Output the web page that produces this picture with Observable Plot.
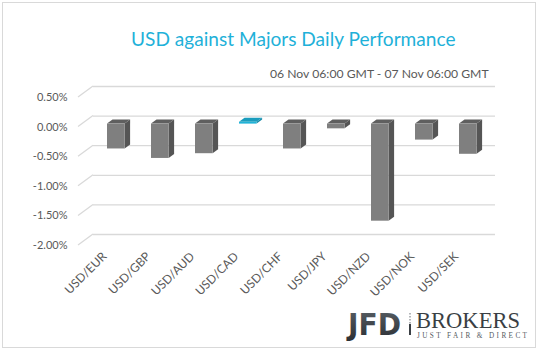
<!DOCTYPE html>
<html>
<head>
<meta charset="utf-8">
<script src="https://cdn.jsdelivr.net/npm/d3@7"></script>
<script src="https://cdn.jsdelivr.net/npm/@observablehq/plot@0.6"></script>
<style>
  html, body { margin: 0; padding: 0; background: #fff; }
  #wrap { position: relative; width: 538px; height: 351px; overflow: hidden; font-family: Lato, "Open Sans", sans-serif; }
  #frame { position: absolute; left: 2px; top: 2px; width: 532px; height: 344px; border: 1px solid #d9d9d9; box-sizing: content-box; }
  #chart { position: absolute; left: 0; top: 0; }
  .lbl { position: absolute; white-space: nowrap; line-height: 1; }
  #title { left: 131px; top: 29px; color: #1fb1d9; font-size: 19.1px; }
  #subtitle { left: 270px; top: 68px; color: #595959; font-size: 12.2px; }
  #logo { position: absolute; left: 0; top: 0; }
</style>
</head>
<body>
<div id="wrap">
  <div id="frame"></div>
  <div id="chart"></div>
  <div id="title" class="lbl">USD against Majors Daily Performance</div>
  <div id="subtitle" class="lbl">06 Nov 06:00 GMT - 07 Nov 06:00 GMT</div>
  <svg id="logo" width="538" height="351">
    <defs>
      <linearGradient id="jfdg" x1="0" y1="0" x2="0" y2="1">
        <stop offset="0" stop-color="#5a6066"/>
        <stop offset="1" stop-color="#2a2e33"/>
      </linearGradient>
    </defs>
    <text x="348" y="335" font-family="'DejaVu Sans Condensed', 'DejaVu Sans', sans-serif" font-weight="bold" font-size="30" fill="url(#jfdg)" textLength="53" lengthAdjust="spacingAndGlyphs">JFD</text>
    <line x1="410" y1="313" x2="410" y2="324" stroke="#9a9ea2" stroke-width="1.5" stroke-dasharray="1.5 1.5"/>
    <line x1="410" y1="324" x2="410" y2="335" stroke="#3a3f44" stroke-width="2"/>
    <text x="416" y="328" font-family="'Liberation Serif', 'DejaVu Serif', serif" font-size="22.5" fill="#3a3f44" textLength="104" lengthAdjust="spacingAndGlyphs">BROKERS</text>
    <text x="417" y="338" font-family="'Liberation Serif', 'DejaVu Serif', serif" font-size="7.2" fill="#555a5f" textLength="110" lengthAdjust="spacing">JUST FAIR &amp; DIRECT</text>
  </svg>
</div>
<script>
// ---- data ----
const pairs = ["USD/EUR", "USD/GBP", "USD/AUD", "USD/CAD", "USD/CHF", "USD/JPY", "USD/NZD", "USD/NOK", "USD/SEK"];
const changes = [-0.42, -0.58, -0.50, 0.03, -0.42, -0.08, -1.64, -0.27, -0.51];
const yTicks = [0.5, 0, -0.5, -1, -1.5, -2];

const rows = pairs.map((p, i) => ({pair: p, value: changes[i]}));

const PAD_INNER = 0.6;
// 3D offsets (front plane relative to back wall)
const FRONT_DX = -15, FRONT_DY = 11;
const BAR_FDX = -11, BAR_FDY = 8;   // bar front face
const BAR_BDX = -5.5, BAR_BDY = 4;  // bar back face

function floorDiagonals(index, scales, values, dimensions) {
  const g = d3.create("svg:g");
  const x0 = dimensions.marginLeft;
  for (const t of yTicks) {
    const y = scales.y(t);
    g.append("line")
      .attr("x1", x0).attr("y1", y)
      .attr("x2", x0 + FRONT_DX).attr("y2", y + FRONT_DY)
      .attr("stroke", "#d9d9d9").attr("stroke-width", 1.3);
  }
  return g.node();
}

function bars3d(index, scales, values, dimensions) {
  const g = d3.create("svg:g");
  const step = scales.x(pairs[1]) - scales.x(pairs[0]);
  const bw = step * (1 - PAD_INNER);
  rows.forEach(d => {
    const pos = d.value >= 0;
    const cFront = pos ? "#21b3d8" : "#7f7f7f";
    const cSide = pos ? "#1689a6" : "#555555";
    const cTop = pos ? "#1a9cbd" : "#5f5f5f";
    const xl = scales.x(d.pair) + BAR_FDX;
    const xr = xl + bw;
    const yt = scales.y(Math.max(d.value, 0)) + BAR_FDY;
    const yb = scales.y(Math.min(d.value, 0)) + BAR_FDY;
    const ddx = BAR_BDX - BAR_FDX, ddy = BAR_BDY - BAR_FDY;
    // side face
    g.append("path")
      .attr("d", `M${xr},${yt}L${xr + ddx},${yt + ddy}L${xr + ddx},${yb + ddy}L${xr},${yb}Z`)
      .attr("fill", cSide);
    // top face
    g.append("path")
      .attr("d", `M${xl},${yt}L${xr},${yt}L${xr + ddx},${yt + ddy}L${xl + ddx},${yt + ddy}Z`)
      .attr("fill", cTop);
    // front face
    g.append("rect")
      .attr("x", xl).attr("y", yt)
      .attr("width", bw).attr("height", Math.max(yb - yt, 0.8))
      .attr("fill", cFront);
  });
  return g.node();
}

const chart = Plot.plot({
  width: 538,
  height: 351,
  marginTop: 86,
  marginBottom: 117,
  marginLeft: 93,
  marginRight: 43,
  style: {background: "transparent", fontFamily: "Lato, 'Open Sans', sans-serif", overflow: "visible"},
  x: {domain: pairs, paddingInner: PAD_INNER, paddingOuter: 0.3, axis: null},
  y: {domain: [-2, 0.5], axis: null},
  marks: [
    Plot.ruleY(yTicks, {stroke: "#d9d9d9", strokeWidth: 1.3}),
    floorDiagonals,
    Plot.axisY(yTicks, {
      tickFormat: d => d.toFixed(2) + "%",
      tickSize: 0, tickPadding: 11, dx: FRONT_DX, dy: FRONT_DY,
      fontSize: 11, color: "#595959"
    }),
    Plot.axisX({
      tickSize: 0, tickPadding: 9, tickRotate: -45, dx: FRONT_DX + 1, dy: FRONT_DY,
      fontSize: 12, color: "#595959"
    }),
    bars3d
  ]
});
document.getElementById("chart").appendChild(chart);
</script>
</body>
</html>
